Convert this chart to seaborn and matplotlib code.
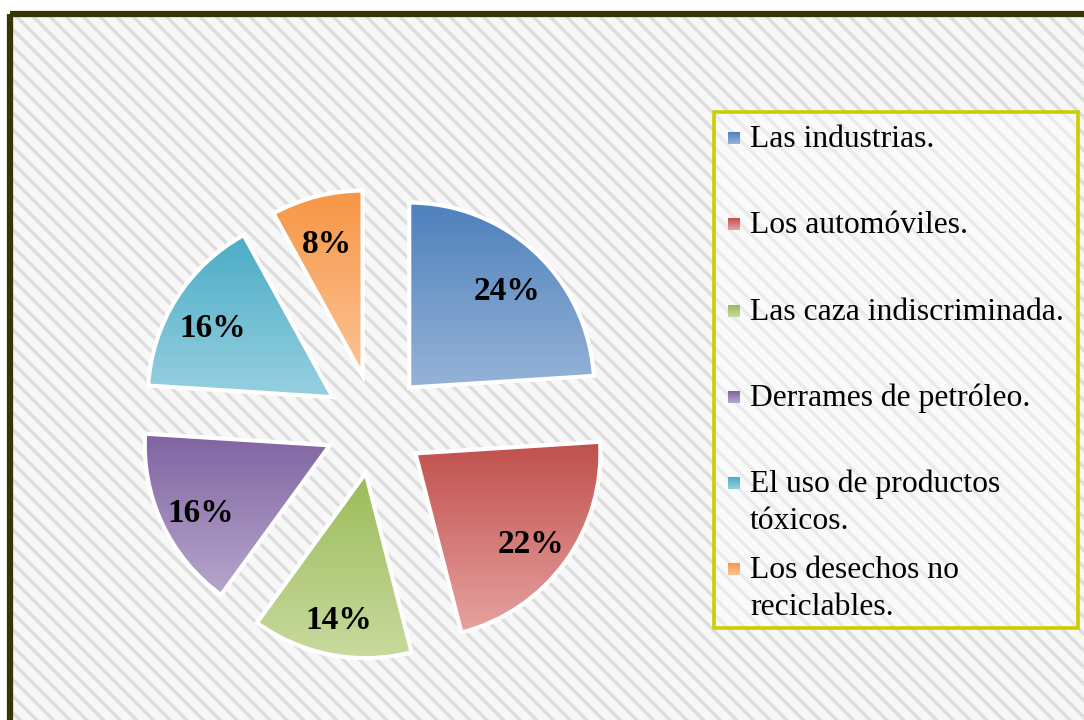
import numpy as np
import matplotlib
matplotlib.use("Agg")
import matplotlib.pyplot as plt
import seaborn as sns
from matplotlib.colors import LinearSegmentedColormap
from matplotlib.patches import Rectangle

# DATOS -------------------------------------------------------------------------
categorias = ["Las industrias.", "Los automóviles.", "Las caza indiscriminada.",
              "Derrames de petróleo.", "El uso de productos\ntóxicos.",
              "Los desechos no\nreciclables."]
porcentajes = [24, 22, 14, 16, 16, 8]
colores_arriba = ["#4f81bd", "#c0504d", "#9bbb59", "#8064a2", "#4bacc6", "#f79646"]
colores_abajo = ["#95b3d7", "#e6a2a0", "#c8da9e", "#b6a6cc", "#96d0e0", "#fbc496"]

sns.set_theme(style="white")
plt.rcParams["font.family"] = ["Liberation Serif", "DejaVu Serif"]
plt.rcParams["hatch.linewidth"] = 2.4

W, H = 1084, 720
fig = plt.figure(figsize=(W / 100, H / 100), dpi=100)
fig.patch.set_facecolor("white")

# fondo en coordenadas de pixel
bg = fig.add_axes([0, 0, 1, 1])
bg.axis("off")
bg.add_patch(Rectangle((12, 17), 1200, 800, facecolor="#f7f7f7", edgecolor="#dddddd",
                       linewidth=0, hatch="\\\\", zorder=0))
bg.add_patch(Rectangle((10, 14), 1200, 800, facecolor="none", edgecolor="#363603",
                       linewidth=4.5, zorder=1))

# leyenda manual
bg.add_patch(Rectangle((713.5, 111.5), 364, 516, facecolor="white", alpha=0.4,
                       edgecolor="none", zorder=1))
bg.add_patch(Rectangle((713.5, 111.5), 364, 516, facecolor="none", edgecolor="#cfcc00",
                       linewidth=2.6, zorder=2))
grad = np.linspace(0, 1, 64).reshape(-1, 1)
for i, cat in enumerate(categorias):
    base = 147 + 86.3 * i
    cmap = LinearSegmentedColormap.from_list("c%d" % i, [colores_arriba[i], colores_abajo[i]])
    bg.imshow(grad, cmap=cmap, extent=[728, 740, base - 3, base - 15], origin="upper",
              aspect="auto", zorder=3)
    for k, linea in enumerate(cat.split("\n")):
        bg.text(750, base + 36.5 * k, linea, fontsize=22.8, va="baseline", ha="left",
                color="black", zorder=3)
bg.set_xlim(0, W)
bg.set_ylim(H, 0)

# PASTEL ------------------------------------------------------------------------
R = 185
cx, cy = 375, 424
ax = fig.add_axes([0, 0, 1, 1])
ax.patch.set_alpha(0)
wedges, _, autotextos = ax.pie(
    porcentajes, explode=[50 / R] * len(porcentajes), startangle=90, counterclock=False,
    autopct="%1.0f%%", pctdistance=0.77,
    wedgeprops=dict(edgecolor="white", linewidth=3),
    textprops=dict(fontsize=24, fontweight="bold", color="black"))

for i, w in enumerate(wedges):
    x0, y0, x1, y1 = w.get_path().get_extents().extents
    cmap = LinearSegmentedColormap.from_list("w%d" % i, [colores_arriba[i], colores_abajo[i]])
    im = ax.imshow(grad, cmap=cmap, extent=[x0, x1, y0, y1], origin="upper",
                   aspect="auto", zorder=2)
    im.set_clip_path(w)
    w.set_facecolor("none")
    w.set_zorder(3)
for t in autotextos:
    t.set_zorder(4)
    x, y = t.get_position()
    t.set_position((x, y - 0.04))

ax.set_xlim(-cx / R, (W - cx) / R)
ax.set_ylim(-(H - cy) / R, cy / R)
ax.set_aspect("auto")
ax.axis("off")

fig.savefig("out.png", dpi=100)
